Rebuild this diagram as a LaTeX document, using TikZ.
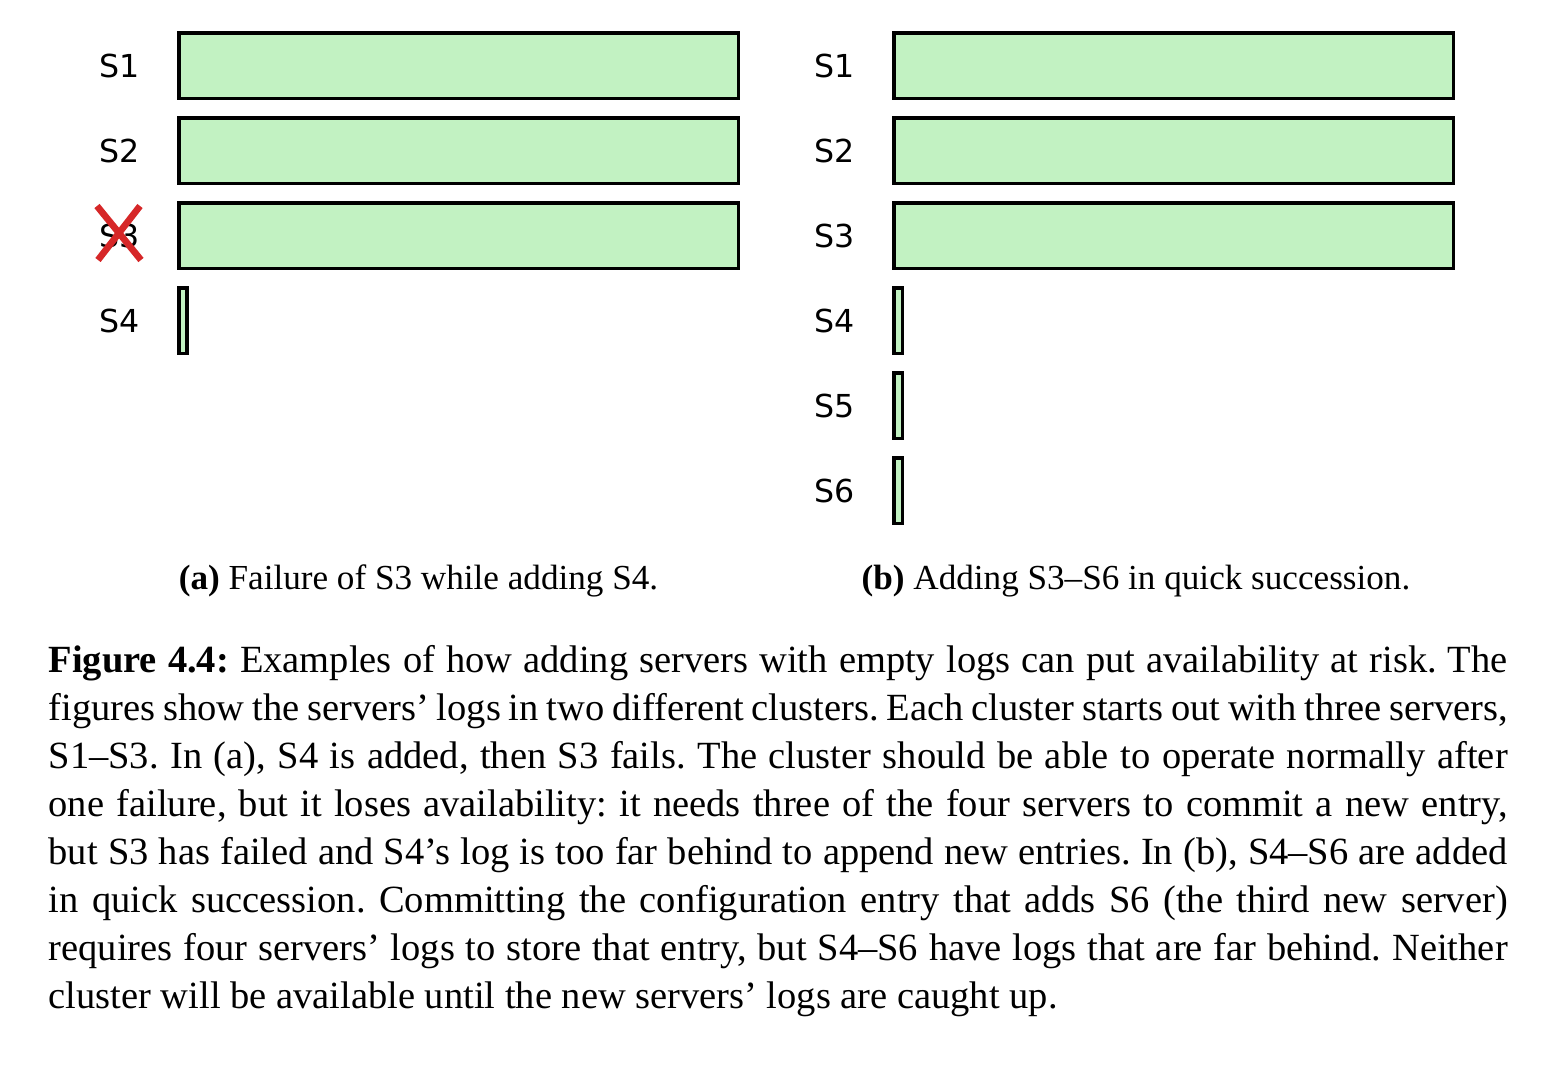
\documentclass[tikz,border=0pt]{standalone}
\usepackage{fontspec}
\setmainfont{Liberation Serif}
\newfontfamily\labelfont{DejaVu Sans}
\definecolor{loggreen}{RGB}{194,242,194}
\definecolor{failred}{RGB}{214,39,40}
\begin{document}
\begin{tikzpicture}[
    logbar/.style={rectangle, draw, line width=1pt, fill=loggreen, minimum width=5.595cm, minimum height=0.655cm, inner sep=0pt},
    emptylog/.style={rectangle, draw, line width=1pt, fill=loggreen, minimum width=0.085cm, minimum height=0.655cm, inner sep=0pt},
    srv/.style={font=\labelfont\fontsize{9}{10}\selectfont, inner sep=0pt},
    subcap/.style={font=\fontsize{10}{12}\selectfont, anchor=base, inner sep=0pt}
]
    \useasboundingbox (0,0) rectangle (15.68,-10.70);

    % Left cluster: S3 fails while S4 is added
    \node[srv] (a1) at (1.195, -0.66) {S1};
    \node[srv] (a2) at (1.195, -1.51) {S2};
    \node[srv] (a3) at (1.195, -2.36) {S3};
    \node[srv] (a4) at (1.195, -3.21) {S4};
    \node[logbar] (la1) at (4.585, -0.655) {};
    \node[logbar] (la2) at (4.585, -1.505) {};
    \node[logbar] (la3) at (4.585, -2.355) {};
    \node[emptylog] (la4) at (1.83, -3.205) {};

    % Failure mark on S3
    \draw[failred, line width=1.9pt] (0.97, -2.06) -- (1.41, -2.60);
    \draw[failred, line width=1.9pt] (0.98, -2.60) -- (1.40, -2.06);

    % Right cluster: S4--S6 added one after another
    \node[srv] (b1) at (8.345, -0.66) {S1};
    \node[srv] (b2) at (8.345, -1.51) {S2};
    \node[srv] (b3) at (8.345, -2.36) {S3};
    \node[srv] (b4) at (8.345, -3.21) {S4};
    \node[srv] (b5) at (8.345, -4.06) {S5};
    \node[srv] (b6) at (8.345, -4.91) {S6};
    \node[logbar] (lb1) at (11.735, -0.655) {};
    \node[logbar] (lb2) at (11.735, -1.505) {};
    \node[logbar] (lb3) at (11.735, -2.355) {};
    \node[emptylog] (lb4) at (8.98, -3.205) {};
    \node[emptylog] (lb5) at (8.98, -4.055) {};
    \node[emptylog] (lb6) at (8.98, -4.905) {};

    % Sub-captions
    \node[subcap] (capa) at (4.185, -5.89) {\textbf{(a)} Failure of S3 while adding S4.};
    \node[subcap] (capb) at (11.36, -5.89) {\textbf{(b)} Adding S3--S6 in quick succession.};

    % Figure caption
    \node[anchor=north west, inner sep=0pt, text width=14.59cm, align=justify,
          font=\fontsize{10.95}{13.66}\selectfont\frenchspacing] (caption) at (0.48, -6.38) {\strut
        \textbf{Figure 4.4:} Examples of how adding servers with empty logs can put availability at risk. The\linebreak
        figures show the servers’ logs in two different clusters. Each cluster starts out with three servers,\linebreak
        S1--S3. In (a), S4 is added, then S3 fails. The cluster should be able to operate normally after\linebreak
        one failure, but it loses availability: it needs three of the four servers to commit a new entry,\linebreak
        but S3 has failed and S4’s log is too far behind to append new entries. In (b), S4--S6 are added\linebreak
        in quick succession. Committing the configuration entry that adds S6 (the third new server)\linebreak
        requires four servers’ logs to store that entry, but S4--S6 have logs that are far behind. Neither\linebreak
        cluster will be available until the new servers’ logs are caught up.};
\end{tikzpicture}
\end{document}
